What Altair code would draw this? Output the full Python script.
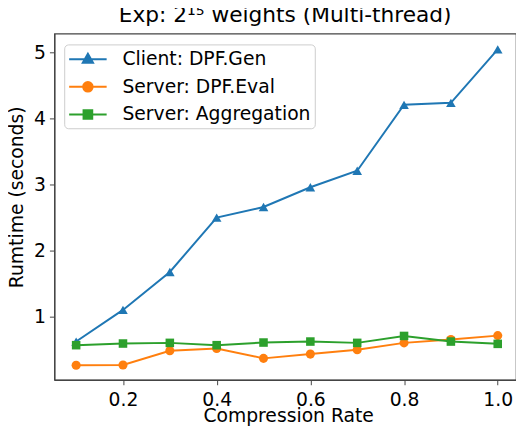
import altair as alt
import pandas as pd

rate = [0.1, 0.2, 0.3, 0.4, 0.5, 0.6, 0.7, 0.8, 0.9, 1.0]
gen = [0.62, 1.10, 1.675, 2.50, 2.66, 2.96, 3.21, 4.21, 4.24, 5.05]
evals = [0.26, 0.265, 0.48, 0.515, 0.365, 0.43, 0.495, 0.60, 0.65, 0.71]
agg = [0.565, 0.59, 0.60, 0.565, 0.605, 0.62, 0.60, 0.705, 0.62, 0.585]

series_names = ["Client: DPF.Gen", "Server: DPF.Eval", "Server: Aggregation"]
colors = ["#1f77b4", "#ff7f0e", "#2ca02c"]
shapes = ["triangle-up", "circle", "square"]
sizes = [95, 85, 75]
legend_paths = [
    "M-1,0L2.8,0M0.9,-0.55L1.42,0.37L0.38,0.37Z",
    "M-1,0L2.8,0M1.38,0A0.48,0.48,0,1,1,0.42,0A0.48,0.48,0,1,1,1.38,0Z",
    "M-1,0L2.8,0M0.46,-0.44L1.34,-0.44L1.34,0.44L0.46,0.44Z",
]

rows = []
for name, vals in zip(series_names, [gen, evals, agg]):
    for r, v in zip(rate, vals):
        rows.append({"rate": r, "runtime": v, "series": name})
df = pd.DataFrame(rows)

W, H = 468, 351
FONT = "DejaVu Sans"
FS = 19
Y_MIN, Y_MAX = 0.04, 5.29

xs = alt.Scale(domain=[0.0535, 1.039], nice=False, zero=False)
ys = alt.Scale(domain=[Y_MIN, Y_MAX], nice=False, zero=False)
color_scale = alt.Scale(domain=series_names, range=colors)

x_enc = alt.X(
    "rate:Q", scale=xs,
    axis=alt.Axis(values=[0.2, 0.4, 0.6, 0.8, 1.0], format=".1f",
                  title="Compression Rate", grid=False,
                  titleX=237, titleY=42, titleBaseline="alphabetic",
                  labelPadding=6),
)
y_enc = alt.Y(
    "runtime:Q", scale=ys,
    axis=alt.Axis(values=[1, 2, 3, 4, 5], format="d",
                  title="Rumtime (seconds)", grid=False,
                  titleX=-38, titleY=H / 2 - 10, titleBaseline="middle",
                  titleAlign="center", labelPadding=4),
)

base = alt.Chart(df)
layers = []

for name, col, shp, sz in zip(series_names, colors, shapes, sizes):
    sub = base.transform_filter(alt.datum.series == name)
    layers.append(
        sub.mark_line(strokeWidth=2, color=col).encode(x=x_enc, y=y_enc)
    )
    layers.append(
        sub.mark_point(filled=True, opacity=1, shape=shp, size=sz, color=col).encode(
            x=x_enc, y=y_enc
        )
    )

# legend only (no marks drawn: data filtered out, scale domains are explicit)
leg = alt.Legend(title=None, orient="none", legendX=10, legendY=11)
legend_layer = base.transform_filter("false").mark_point(
    filled=True, strokeWidth=2
).encode(
    x=x_enc, y=y_enc,
    color=alt.Color("series:N", scale=color_scale, legend=leg),
    stroke=alt.Stroke("series:N", scale=color_scale, legend=leg),
    shape=alt.Shape("series:N",
                    scale=alt.Scale(domain=series_names, range=legend_paths),
                    legend=leg),
)
layers.append(legend_layer)

chart = alt.layer(*layers).properties(
    width=W, height=H,
    title=alt.Title("Exp: 2¹⁵ weights (Multi-thread)", fontSize=22,
                    fontWeight="normal", font=FONT, color="black",
                    offset=7, anchor="middle", frame="group"),
    autosize=alt.AutoSizeParams(type="none"),
    padding={"left": 47, "top": 23, "right": 0, "bottom": 50},
).configure_view(stroke="#444444", strokeWidth=1.2).configure_axis(
    domainColor="#444444", tickColor="#444444", domainWidth=1.2,
    tickSize=5, labelFontSize=FS, titleFontSize=FS, labelFont=FONT,
    titleFont=FONT, labelColor="black", titleColor="black",
    titleFontWeight="normal",
).configure_legend(
    symbolSize=400, symbolOpacity=1, symbolStrokeWidth=2,
    labelFontSize=FS, labelFont=FONT, labelColor="black",
    labelOffset=33, padding=4, rowPadding=7,
    strokeColor="#cccccc", fillColor="white", cornerRadius=4,
    labelLimit=300,
)

chart.save("out.html", embed_options={"renderer": "svg", "actions": False})
